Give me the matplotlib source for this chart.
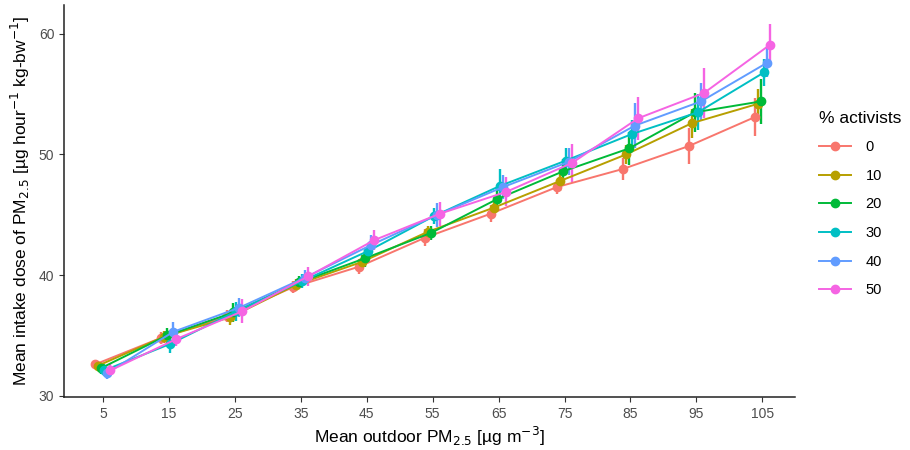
import matplotlib
matplotlib.use("Agg")
import matplotlib.pyplot as plt
import numpy as np

plt.rcParams["font.family"] = ["Liberation Sans", "DejaVu Sans"]

# ── Data ─────────────────────────────────────────────────────────────────────
PM_OUTDOOR = [5, 15, 25, 35, 45, 55, 65, 75, 85, 95, 105]
ACTIVISTS  = ["0", "10", "20", "30", "40", "50"]
COLORS     = ["#F8766D", "#B79F00", "#00BA38", "#00BFC4", "#619CFF", "#F564E3"]

dose_0  = [32.6, 34.8, 36.6, 39.0, 40.7, 43.1, 45.1, 47.3, 48.8, 50.7, 53.1]
dose_10 = [32.5, 34.9, 36.5, 39.2, 41.1, 43.6, 45.6, 47.8, 50.0, 52.6, 54.2]
dose_20 = [32.3, 35.0, 36.9, 39.4, 41.4, 43.5, 46.3, 48.6, 50.5, 53.5, 54.4]
dose_30 = [32.1, 34.3, 37.0, 39.5, 42.0, 44.9, 47.4, 49.5, 51.7, 53.5, 56.8]
dose_40 = [31.9, 35.3, 37.3, 39.8, 42.5, 45.0, 47.3, 49.4, 52.4, 54.4, 57.6]
dose_50 = [32.1, 34.7, 37.0, 39.9, 42.9, 45.1, 46.9, 49.3, 53.0, 55.1, 59.1]

err_0  = [0.3, 0.5, 0.5, 0.5, 0.6, 0.7, 0.7, 0.6, 0.9, 1.5, 1.6]
err_10 = [0.4, 0.5, 0.6, 0.5, 0.6, 0.5, 0.7, 0.8, 0.8, 1.2, 1.2]
err_20 = [0.5, 0.6, 0.8, 0.5, 0.7, 0.6, 0.8, 1.0, 1.4, 1.6, 1.9]
err_30 = [0.5, 0.8, 0.8, 0.6, 0.6, 0.7, 1.4, 1.0, 1.2, 1.5, 1.1]
err_40 = [0.5, 0.8, 0.8, 0.6, 0.8, 1.0, 1.0, 1.1, 1.9, 1.5, 1.2]
err_50 = [0.5, 0.6, 1.0, 0.8, 0.8, 1.0, 1.2, 1.6, 1.8, 2.1, 1.7]

DOSES = [dose_0, dose_10, dose_20, dose_30, dose_40, dose_50]
ERRS  = [err_0, err_10, err_20, err_30, err_40, err_50]

# ── Plot ─────────────────────────────────────────────────────────────────────
fig = plt.figure(figsize=(9.1, 4.5), dpi=100)
ax = fig.add_axes([0.0703, 0.118, 0.803, 0.871])

dodge = 0.46
x = np.array(PM_OUTDOOR, dtype=float)
for i, (lab, col, y, e) in enumerate(zip(ACTIVISTS, COLORS, DOSES, ERRS)):
    xd = x + (i - 2.5) * dodge
    ax.errorbar(xd, y, yerr=e, fmt="none", ecolor=col, elinewidth=1.7,
                capsize=0, zorder=2)
    ax.plot(xd, y, color=col, linewidth=1.4, marker="o", markersize=6,
            label=lab, zorder=3)

ax.set_xlim(-0.9, 109.9)
ax.set_ylim(29.9, 62.4)
ax.set_xticks(PM_OUTDOOR)
ax.set_yticks([30, 40, 50, 60])
ax.tick_params(axis="both", colors="#333333", labelcolor="#4D4D4D",
               labelsize=10, length=3.5, width=0.8)
for side in ("top", "right"):
    ax.spines[side].set_visible(False)
for side in ("left", "bottom"):
    ax.spines[side].set_linewidth(1.1)
    ax.spines[side].set_color("#222222")

ax.set_xlabel(r"Mean outdoor PM$_{2.5}$ [µg m$^{-3}$]", fontsize=12.5, labelpad=3)
ax.set_ylabel(r"Mean intake dose of PM$_{2.5}$ [µg hour$^{-1}$ kg-bw$^{-1}$]",
              fontsize=12.5, labelpad=5)

leg = ax.legend(title="% activists", loc="upper left",
                bbox_to_anchor=(1.025, 0.745), frameon=False, fontsize=10.5,
                title_fontsize=12.5, handlelength=2.2, labelspacing=1.0,
                handletextpad=1.0, borderaxespad=0)
leg._legend_box.align = "left"

fig.savefig("out.png", dpi=100)
